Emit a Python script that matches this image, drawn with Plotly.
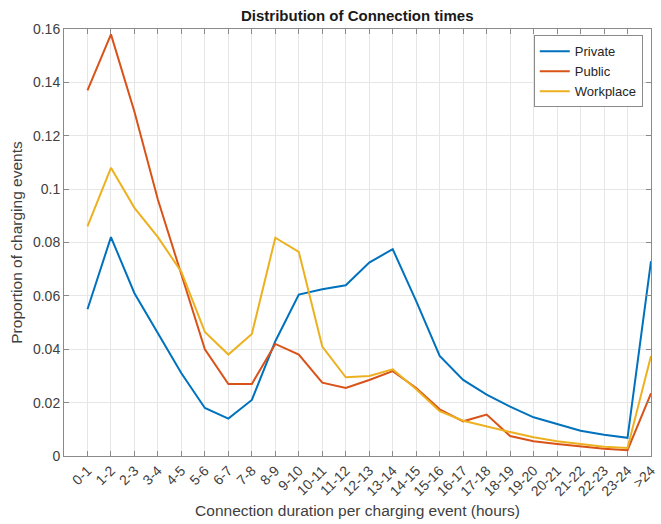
import plotly.graph_objects as go

# Connection duration bins (hours)
categories = ["0-1", "1-2", "2-3", "3-4", "4-5", "5-6", "6-7", "7-8", "8-9", "9-10",
              "10-11", "11-12", "12-13", "13-14", "14-15", "15-16", "16-17", "17-18",
              "18-19", "19-20", "20-21", "21-22", "22-23", "23-24", ">24"]

private = [0.055, 0.082, 0.061, 0.046, 0.031, 0.018, 0.014, 0.021, 0.043, 0.0605,
           0.0625, 0.064, 0.0725, 0.0775, 0.058, 0.0375, 0.0285, 0.023, 0.0185, 0.0145,
           0.012, 0.0095, 0.008, 0.0068, 0.073]

public = [0.137, 0.158, 0.129, 0.096, 0.068, 0.040, 0.027, 0.027, 0.042, 0.038,
          0.0275, 0.0255, 0.0285, 0.0318, 0.0255, 0.0175, 0.013, 0.0155, 0.0075, 0.0055,
          0.0045, 0.0035, 0.0027, 0.0022, 0.0235]

workplace = [0.086, 0.108, 0.093, 0.082, 0.069, 0.0465, 0.038, 0.0457, 0.0818, 0.0765,
             0.041, 0.0295, 0.030, 0.0325, 0.025, 0.0168, 0.0132, 0.011, 0.009, 0.007,
             0.0055, 0.0045, 0.0035, 0.003, 0.0375]

y_ticks = [0, 0.02, 0.04, 0.06, 0.08, 0.1, 0.12, 0.14, 0.16]
y_tick_labels = ["0", "0.02", "0.04", "0.06", "0.08", "0.1", "0.12", "0.14", "0.16"]

series = [("Private", private, "#0072BD"),
          ("Public", public, "#D95319"),
          ("Workplace", workplace, "#EDB120")]

idx = list(range(len(categories)))

fig = go.Figure()
for name, vals, color in series:
    fig.add_trace(go.Scatter(x=idx, y=vals, mode="lines", name=name,
                             line=dict(color=color, width=2)))

font = "Liberation Sans, Arial, sans-serif"
axis_common = dict(
    showline=True, linecolor="#8a8a8a", linewidth=1, mirror="ticks",
    ticks="inside", ticklen=5, tickcolor="#8a8a8a",
    showgrid=True, gridcolor="#e6e6e6", gridwidth=1, zeroline=False,
    tickfont=dict(family=font, size=14, color="#404040"),
    automargin=False,
)

fig.update_layout(
    width=661, height=524,
    margin=dict(l=64, r=10, t=29, b=68),
    paper_bgcolor="white", plot_bgcolor="white",
    title=dict(text="<b>Distribution of Connection times</b>",
               font=dict(family=font, size=15, color="#1a1a1a"),
               x=0.5405, xanchor="center", y=0.969, yanchor="middle"),
    xaxis=dict(range=[-1, 24], tickmode="array", tickvals=idx, ticktext=categories,
               tickangle=-45,
               title=dict(text="Connection duration per charging event (hours)",
                          font=dict(family=font, size=15.5, color="#404040"), standoff=6),
               **axis_common),
    yaxis=dict(range=[0, 0.16], tickmode="array", tickvals=y_ticks, ticktext=y_tick_labels,
               title=dict(text="Proportion of charging events",
                          font=dict(family=font, size=15.5, color="#404040"), standoff=6),
               **axis_common),
    legend=dict(x=0.986, y=0.985, xanchor="right", yanchor="top",
                bgcolor="white", bordercolor="#8a8a8a", borderwidth=1,
                font=dict(family=font, size=13, color="#262626"),
                tracegroupgap=0, itemwidth=30),
    showlegend=True,
)

fig.write_html("out.html")
